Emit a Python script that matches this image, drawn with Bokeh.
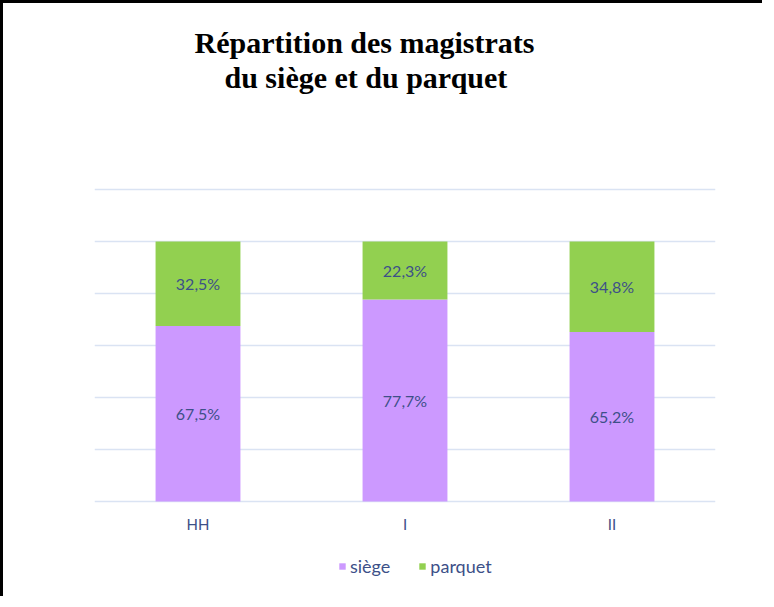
from bokeh.plotting import figure
from bokeh.models import (ColumnDataSource, FactorRange, Range1d, FixedTicker,
                          Title, Legend, LegendItem, LabelSet)
from bokeh.core.properties import value
from bokeh.embed import file_html
from bokeh.resources import INLINE

# ---- data ----
categories = ["HH", "I", "II"]
siege = [67.5, 77.7, 65.2]
parquet = [32.5, 22.3, 34.8]
series_names = ["siège", "parquet"]
series_colors = ["#CC99FF", "#92D050"]
grid_ticks = [0, 20, 40, 60, 80, 100, 120]
title_line1 = "Répartition des magistrats"
title_line2 = "du siège et du parquet"

TEXT_COLOR = "#3D5088"
FONT = "Lato"
CAT_LABEL_Y = -8.5   # position of the category labels (below the bars)


def fmt(v):
    return f"{v:.1f}".replace(".", ",") + "%"


src = ColumnDataSource(dict(
    cat=categories,
    siege=siege,
    parquet=parquet,
    siege_mid=[s / 2 for s in siege],
    parquet_mid=[s + q / 2 for s, q in zip(siege, parquet)],
    siege_lbl=[fmt(v) for v in siege],
    parquet_lbl=[fmt(v) for v in parquet],
    cat_y=[CAT_LABEL_Y] * len(categories),
))

p = figure(x_range=FactorRange(*categories), y_range=Range1d(-36.15, 156.9),
           width=762, height=596, output_backend="svg", toolbar_location=None,
           min_border_left=91, min_border_right=50, min_border_top=90,
           min_border_bottom=4)
p.styles = {"border-left": "3px solid #000", "border-top": "3px solid #000"}
p.outline_line_color = None
p.background_fill_color = "white"
p.border_fill_color = "white"

# titles
p.title.text = title_line1
p.title.align = "left"
p.title.offset = 100
p.title.standoff = 0
p.title.text_font = "Liberation Serif"
p.title.text_font_style = "bold"
p.title.text_font_size = "30px"
p.title.text_color = "black"
t2 = Title(text=title_line2, align="left", offset=130, standoff=0,
           text_font="Liberation Serif", text_font_style="bold",
           text_font_size="30px", text_color="black")
p.add_layout(t2, "above")

renderers = p.vbar_stack(["siege", "parquet"], x="cat", width=0.41, source=src,
                         color=series_colors, line_color=None)

for ycol, lcol in (("siege_mid", "siege_lbl"), ("parquet_mid", "parquet_lbl")):
    labels = LabelSet(x="cat", y=ycol, text=lcol, source=src,
                      text_align="center", text_baseline="middle",
                      text_font=value(FONT), text_font_size="16px",
                      text_color=TEXT_COLOR)
    p.add_layout(labels)

# category labels (x axis) drawn through the categorical scale
cat_labels = LabelSet(x="cat", y="cat_y", text="cat", source=src,
                      text_align="center", text_baseline="middle",
                      text_font=value(FONT), text_font_size="15px",
                      text_color=TEXT_COLOR)
p.add_layout(cat_labels)

# axes / grid
p.yaxis.visible = False
p.xaxis.visible = False
p.xgrid.grid_line_color = None
p.ygrid.ticker = FixedTicker(ticks=grid_ticks)
p.ygrid.grid_line_color = "#DAE3F3"
p.ygrid.grid_line_width = 1.5

legend = Legend(items=[LegendItem(label=series_names[i], renderers=[renderers[i]])
                       for i in range(2)],
                orientation="horizontal", location=(244, 18),
                border_line_color=None, background_fill_alpha=0,
                glyph_width=8, glyph_height=8, spacing=28,
                label_text_font=FONT, label_text_font_size="18px",
                label_text_color=TEXT_COLOR, label_standoff=4,
                margin=0, padding=0)
p.add_layout(legend)

open("out.html", "w").write(file_html(p, INLINE))
